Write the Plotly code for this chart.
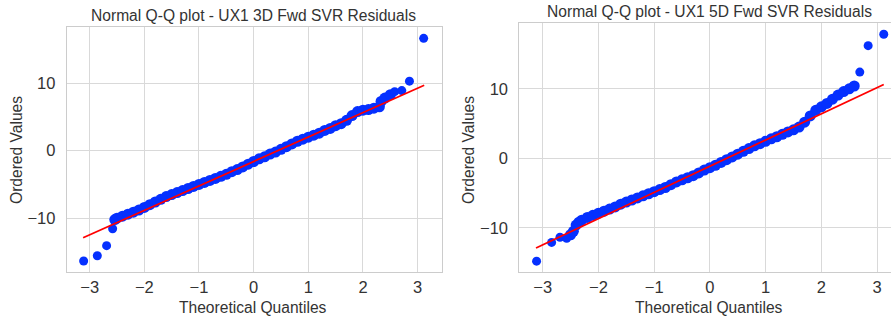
import plotly.graph_objects as go

# ---------------- data ----------------
# UX1 3D: isolated tail points and the dense central band
tail_tq_3d = [-3.11, -2.86, -2.69, -2.58, 2.58, 2.71, 2.85, 3.11]
tail_ov_3d = [-16.34, -15.56, -14.07, -11.56, 8.75, 8.9, 10.3, 16.65]
band_tq_3d = [-2.54, -2.5, -2.4, -2.3, -2.2, -2.1, -2.0, -1.9, -1.8,
              -1.7, -1.6, -1.5, -1.4, -1.3, -1.2, -1.1, -1.0, -0.9, -0.8, -0.7, -0.6, -0.5,
              -0.4, -0.3, -0.2, -0.1, 0.0, 0.1, 0.2, 0.3, 0.4, 0.5, 0.6, 0.7, 0.8, 0.9, 1.0,
              1.1, 1.2, 1.3, 1.4, 1.5, 1.6, 1.7, 1.8, 1.9, 2.0, 2.1, 2.2, 2.3, 2.33, 2.4,
              2.5]
band_ov_3d = [-10.2, -10.0, -9.7, -9.4, -9.1, -8.8, -8.4, -8.0, -7.6,
              -7.2, -6.8, -6.5, -6.2, -5.9, -5.6, -5.3, -5.0, -4.7, -4.4, -4.1, -3.8, -3.5,
              -3.1, -2.8, -2.4, -2.0, -1.6, -1.2, -0.9, -0.5, -0.2, 0.2, 0.6, 1.0, 1.4, 1.7, 2.0,
              2.3, 2.6, 3.0, 3.3, 3.7, 4.0, 4.5, 5.2, 5.8, 6.0, 6.1, 6.3, 6.5, 7.3, 7.8,
              8.3]
fit_3d_slope, fit_3d_intercept = 3.62, -1.6

# UX1 5D
tail_tq_5d = [-3.11, -2.84, -2.69, -2.57, 2.69, 2.84, 3.12]
tail_ov_5d = [-14.8, -12.1, -11.35, -11.5, 12.4, 16.2, 17.84]
band_tq_5d = [-2.5, -2.45, -2.4, -2.35, -2.3, -2.2, -2.1, -2.0, -1.9,
              -1.8, -1.7, -1.6, -1.5, -1.4, -1.3, -1.2, -1.1, -1.0, -0.9, -0.8, -0.7, -0.6,
              -0.5, -0.4, -0.3, -0.2, -0.1, 0.0, 0.1, 0.2, 0.3, 0.4, 0.5, 0.6, 0.7, 0.8, 0.9,
              1.0, 1.1, 1.2, 1.3, 1.4, 1.5, 1.6, 1.7, 1.8, 1.9, 2.0, 2.1, 2.2, 2.3, 2.4, 2.5,
              2.59]
band_ov_5d = [-11.0, -10.5, -9.6, -9.2, -8.9, -8.5, -8.2, -7.9, -7.6,
              -7.3, -7.0, -6.6, -6.3, -6.0, -5.7, -5.4, -5.1, -4.8, -4.5, -4.2, -3.8, -3.4,
              -3.1, -2.8, -2.5, -2.1, -1.7, -1.35, -1.0, -0.6, -0.2, 0.2, 0.6, 1.0, 1.4, 1.8, 2.1,
              2.45, 2.8, 3.1, 3.45, 3.8, 4.1, 4.5, 5.2, 6.1, 6.9, 7.4, 7.9, 8.5, 9.1, 9.6, 10.0,
              10.4]
fit_5d_slope, fit_5d_intercept = 3.77, -1.15

fit_x_span = [-3.12, 3.12]
x_ticks = [-3, -2, -1, 0, 1, 2, 3]
y_ticks = [-10, 0, 10]
titles = ["Normal Q-Q plot - UX1 3D Fwd SVR Residuals",
          "Normal Q-Q plot - UX1 5D Fwd SVR Residuals"]
x_title = "Theoretical Quantiles"
y_title = "Ordered Values"

# ---------------- figure ----------------
W, H = 891, 322
FONT = "Liberation Sans, Arial, sans-serif"
TXT = "#333333"
GRID = "#d9d9d9"
BLUE = "#0530ff"

fig = go.Figure()

panels = [
    dict(tx=tail_tq_3d, ty=tail_ov_3d, bx=band_tq_3d, by=band_ov_3d,
         m=fit_3d_slope, b=fit_3d_intercept, xa="x", ya="y"),
    dict(tx=tail_tq_5d, ty=tail_ov_5d, bx=band_tq_5d, by=band_ov_5d,
         m=fit_5d_slope, b=fit_5d_intercept, xa="x2", ya="y2"),
]
for p in panels:
    fig.add_trace(go.Scatter(x=p["bx"], y=p["by"], mode="markers", xaxis=p["xa"], yaxis=p["ya"],
                             marker=dict(color=BLUE, size=11, line=dict(width=0)),
                             showlegend=False, hoverinfo="skip"))
    fig.add_trace(go.Scatter(x=p["tx"], y=p["ty"], mode="markers", xaxis=p["xa"], yaxis=p["ya"],
                             marker=dict(color=BLUE, size=9, line=dict(width=0)),
                             showlegend=False, hoverinfo="skip"))
    fig.add_trace(go.Scatter(x=fit_x_span, y=[p["m"] * v + p["b"] for v in fit_x_span],
                             mode="lines", xaxis=p["xa"], yaxis=p["ya"],
                             line=dict(color="#ff0000", width=1.8),
                             showlegend=False, hoverinfo="skip"))

def px_x(v):
    return v / W

def px_y(v):
    return 1 - v / H

axis_common = dict(showgrid=True, gridcolor=GRID, gridwidth=1, zeroline=False,
                   showline=True, linecolor="#cccccc", linewidth=1, mirror=True,
                   ticks="", tickfont=dict(family=FONT, size=16.5, color=TXT))
xa_common = dict(axis_common, ticklabelstandoff=0)
ya_common = dict(axis_common, ticklabelstandoff=7)

fig.update_layout(
    width=W, height=H,
    margin=dict(l=0, r=0, t=0, b=0),
    paper_bgcolor="white", plot_bgcolor="white",
    font=dict(family=FONT, size=15.5, color=TXT),
    xaxis=dict(domain=[px_x(66.7), px_x(441.7)], range=[-3.42, 3.44], anchor="y",
               tickvals=x_ticks, **xa_common),
    yaxis=dict(domain=[px_y(272), px_y(26.7)], range=[-17.97, 18.37], anchor="x",
               tickvals=y_ticks, **ya_common),
    xaxis2=dict(domain=[px_x(519.3), 1.0], range=[-3.42, 3.25], anchor="y2",
                tickvals=x_ticks, **xa_common),
    yaxis2=dict(domain=[px_y(272.3), px_y(23.3)], range=[-16.4, 19.42], anchor="x2",
                tickvals=y_ticks, **ya_common),
)

ann = []
ann.append(dict(text=titles[0], x=px_x(253), y=px_y(15), xref="paper", yref="paper",
                showarrow=False, xanchor="center", yanchor="middle",
                font=dict(family=FONT, size=15.6, color=TXT)))
ann.append(dict(text=titles[1], x=px_x(709.5), y=px_y(12), xref="paper", yref="paper",
                showarrow=False, xanchor="center", yanchor="middle",
                font=dict(family=FONT, size=15.6, color=TXT)))
for cx in (253, 709):
    ann.append(dict(text=x_title, x=px_x(cx), y=px_y(307), xref="paper", yref="paper",
                    showarrow=False, xanchor="center", yanchor="middle",
                    font=dict(family=FONT, size=15.6, color=TXT)))
for cx, cy in ((16, 150), (468, 150)):
    ann.append(dict(text=y_title, x=px_x(cx), y=px_y(cy), xref="paper", yref="paper",
                    showarrow=False, xanchor="center", yanchor="middle", textangle=-90,
                    font=dict(family=FONT, size=15.6, color=TXT)))
fig.update_layout(annotations=ann)

fig.write_html("out.html", config={"displayModeBar": False},
               post_script="document.body.style.margin='0px';")
